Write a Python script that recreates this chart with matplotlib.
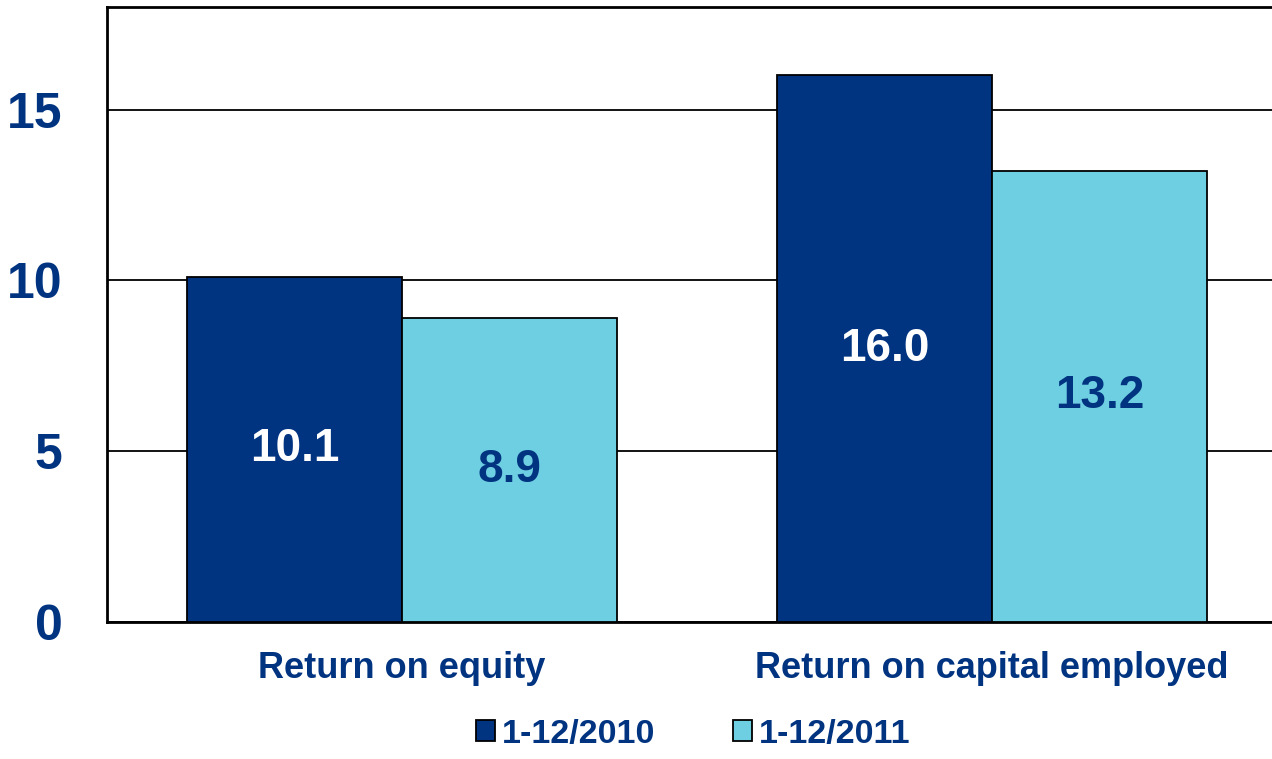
import numpy as np
import matplotlib.pyplot as plt

categories = ['Return on equity', 'Return on capital employed']
series_names = ['1-12/2010', '1-12/2011']
values_2010 = [10.1, 16.0]
values_2011 = [8.9, 13.2]
yticks = [0, 5, 10, 15]

dark = '#003380'
light = '#6ECEE2'
text_col = '#003380'

plt.rcParams['font.family'] = ['Liberation Sans', 'DejaVu Sans']
plt.rcParams['font.weight'] = 'bold'

fig = plt.figure(figsize=(12.72, 7.59), dpi=100)
ax = fig.add_axes([107 / 1272, 137 / 759, 1 - 107 / 1272, 615 / 759])

x = np.arange(len(categories))
w = 0.364
b1 = ax.bar(x - w / 2, values_2010, w, color=dark, edgecolor='black', linewidth=1.3,
            label=series_names[0], zorder=3)
b2 = ax.bar(x + w / 2, values_2011, w, color=light, edgecolor='black', linewidth=1.3,
            label=series_names[1], zorder=3)

for rect, v in zip(b1, values_2010):
    ax.text(rect.get_x() + rect.get_width() / 2, v / 2, f'{v:.1f}', ha='center', va='center',
            color='white', fontsize=33, fontweight='bold', zorder=4)
for rect, v in zip(b2, values_2011):
    ax.text(rect.get_x() + rect.get_width() / 2, v / 2, f'{v:.1f}', ha='center', va='center',
            color=text_col, fontsize=33, fontweight='bold', zorder=4)

ax.set_ylim(0, 18)
# plot area runs past the right edge of the picture
ax.set_xlim(-0.5, (1272 - 402) / 590)
ax.set_yticks(yticks)
ax.set_xticks(x)
ax.set_xticklabels(categories)
ax.yaxis.grid(True, color='black', linewidth=1.3, zorder=0)
ax.set_axisbelow(True)

ax.tick_params(axis='y', length=0, pad=32, labelsize=36, labelcolor=text_col)
ax.tick_params(axis='x', length=0, pad=21, labelsize=26, labelcolor=text_col)
for lab in ax.get_xticklabels() + ax.get_yticklabels():
    lab.set_fontweight('bold')

for side in ['left', 'bottom', 'top']:
    ax.spines[side].set_linewidth(2)
    ax.spines[side].set_color('black')
ax.spines['right'].set_visible(False)

leg = fig.legend(handles=[b1, b2], labels=series_names, loc='lower center',
                 bbox_to_anchor=(0.545, -0.028), ncol=2, frameon=False,
                 fontsize=24.5, handlelength=0.56, handleheight=0.56,
                 handletextpad=0.2, columnspacing=2.3)
for t in leg.get_texts():
    t.set_color(text_col)
    t.set_fontweight('bold')

fig.savefig('out.png', dpi=100)
